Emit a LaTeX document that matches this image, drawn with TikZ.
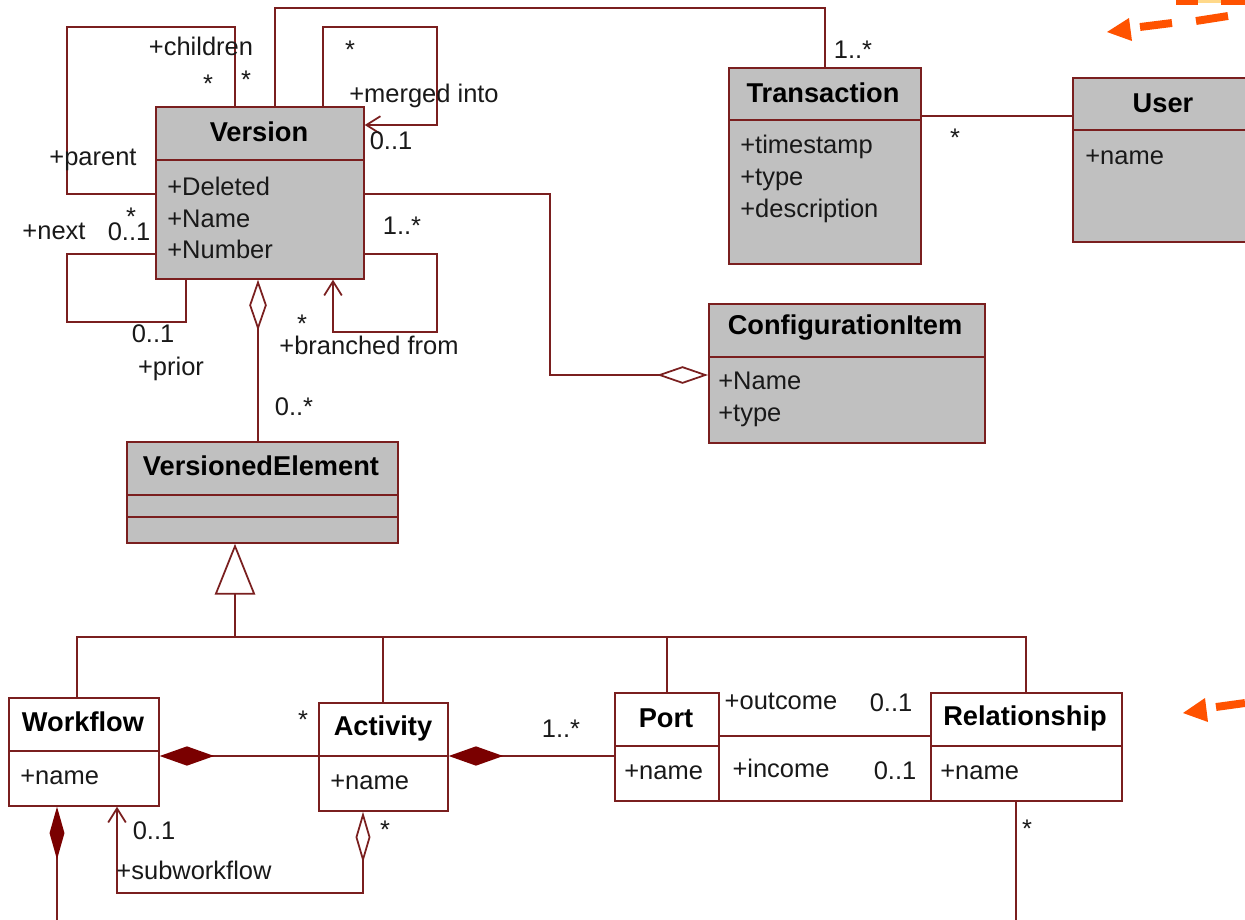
\documentclass[tikz,border=0pt]{standalone}
\usepackage{fontspec}
\setmainfont{Liberation Sans}
\usetikzlibrary{arrows.meta}
\definecolor{lc}{HTML}{7A1F1F}
\definecolor{gr}{HTML}{C0C0C0}
\definecolor{dk}{HTML}{7A0000}
\definecolor{og}{HTML}{FF5200}
\definecolor{yl}{HTML}{FFD98A}
\tikzset{
  ln/.style={draw=lc, line width=1pt},
  cls/.style={draw=lc, line width=1pt, inner sep=0pt, anchor=north west, fill=gr},
  wcls/.style={cls, fill=white},
  ttl/.style={font=\bfseries\fontsize{15.5}{18}\selectfont, inner sep=0pt, text=black},
  attr/.style={font=\fontsize{14.5}{18.1}\selectfont, align=left, anchor=west, inner sep=0pt, text=black!90},
  lbl/.style={font=\fontsize{14.5}{18}\selectfont, inner sep=0pt, text=black!90},
  odia/.tip={Diamond[open, length=29pt, width=10pt, line width=1pt]},
  fdia/.tip={Diamond[length=31pt, width=11pt, color=dk]},
  sdia/.tip={Diamond[length=30pt, width=8.5pt, color=dk]},
  navtip/.tip={Straight Barb[length=8pt, width=10pt, line width=1pt]},
  gentip/.tip={Triangle[open, length=29pt, width=23pt, fill=white, line width=1pt]},
}
\begin{document}
\begin{tikzpicture}[x=0.02cm, y=-0.02cm]
\useasboundingbox (0,0) rectangle (1245,920);
\fill[white] (0,0) rectangle (1245,920);

% ---------- classes ----------
\node[cls, minimum width=4.16cm, minimum height=3.44cm] (ver) at (155,106) {};
\draw[ln] (ver.west |- 0,160) -- (ver.east |- 0,160);
\node[ttl] (vert) at (259,132) {Version};
\node[attr] (vera) at (167,218) {+Deleted\\+Name\\+Number};

\node[cls, minimum width=3.84cm, minimum height=3.92cm] (tra) at (728,67) {};
\draw[ln] (tra.west |- 0,120) -- (tra.east |- 0,120);
\node[ttl] (trat) at (823,93) {Transaction};
\node[attr] (traa) at (740,179) {+timestamp\\+type\\+description};

\node[cls, minimum width=3.6cm, minimum height=3.28cm] (usr) at (1072,77) {};
\draw[ln] (usr.west |- 0,130) -- (usr.east |- 0,130);
\node[ttl] (usrt) at (1163,103) {User};
\node[attr] (usra) at (1085,157) {+name};

\node[cls, minimum width=5.52cm, minimum height=2.78cm] (ci) at (708,303) {};
\draw[ln] (ci.west |- 0,357) -- (ci.east |- 0,357);
\node[ttl] (cit) at (845,328) {ConfigurationItem};
\node[attr] (cia) at (718,399) {+Name\\+type};

\node[cls, minimum width=5.42cm, minimum height=2.02cm] (ve) at (126,441) {};
\draw[ln] (ve.west |- 0,495) -- (ve.east |- 0,495);
\draw[ln] (ve.west |- 0,517) -- (ve.east |- 0,517);
\node[ttl] (vet) at (261,466) {VersionedElement};

\node[wcls, minimum width=3.0cm, minimum height=2.16cm] (wf) at (8,697) {};
\draw[ln] (wf.west |- 0,751) -- (wf.east |- 0,751);
\node[ttl] (wft) at (83,722) {Workflow};
\node[attr] (wfa) at (20,777) {+name};

\node[wcls, minimum width=2.58cm, minimum height=2.16cm] (act) at (318,702) {};
\draw[ln] (act.west |- 0,756) -- (act.east |- 0,756);
\node[ttl] (actt) at (383,728) {Activity};
\node[attr] (acta) at (330,782) {+name};

\node[wcls, minimum width=2.08cm, minimum height=2.16cm] (port) at (614,692) {};
\draw[ln] (port.west |- 0,746) -- (port.east |- 0,746);
\node[ttl] (portt) at (666,718) {Port};
\node[attr] (porta) at (624,772) {+name};

\node[wcls, minimum width=3.82cm, minimum height=2.16cm] (rel) at (930,692) {};
\draw[ln] (rel.west |- 0,746) -- (rel.east |- 0,746);
\node[ttl] (relt) at (1025,718) {Relationship};
\node[attr] (rela) at (940,772) {+name};

% ---------- associations around Version ----------
% parent / children
\draw[ln] (ver.west |- 0,194) -| (67,27) -| (ver.north -| 235,0);
\node[lbl] (l1) at (201,46) {+children};
\node[lbl] (l2) at (208,84) {*};
\node[lbl] (l3) at (246,80) {*};
\node[lbl] (l4) at (93,160) {+parent};
% to Transaction
\draw[ln] (ver.north -| 275,0) |- (tra.north |- 0,8) -- (tra.north);
\node[lbl] (l5) at (853,50) {1..*};
% merged into
\draw[ln, -navtip] (ver.north -| 323,0) |- (437,27) |- (ver.east |- 0,125);
\node[lbl] (l6) at (350,50) {*};
\node[lbl] (l7) at (424,96) {+merged into};
\node[lbl] (l8) at (391,141) {0..1};
% next / prior
\draw[ln] (ver.west |- 0,254) -| (67,322) -| (ver.south -| 186,0);
\node[lbl] (l9) at (54,231) {+next};
\node[lbl] (l10) at (129,232) {0..1};
\node[lbl] (l11) at (131,217) {*};
\node[lbl] (l12) at (153,334) {0..1};
\node[lbl] (l13) at (171,369) {+prior};
% branched from
\draw[ln, -navtip] (ver.east |- 0,254) -| (437,332) -| (ver.south -| 333,0);
\node[lbl] (l14) at (402,226) {1..*};
\node[lbl] (l15) at (302,324) {*};
\node[lbl] (l16) at (369,345) {+branched from};
% Version aggregates VersionedElement
\draw[ln, odia-] (ver.south -| 258,0) -- (ve.north -| 258,0);
\node[lbl] (l17) at (294,407) {0..*};
% Version to ConfigurationItem
\draw[ln, -odia] (ver.east |- 0,194) -| (550,375) -- (ci.west |- 0,375);
% Transaction to User
\draw[ln] (tra.east |- 0,116) -- (usr.west |- 0,116);
\node[lbl] (l18) at (955,138) {*};

% ---------- generalization ----------
\coordinate (bus) at (235,637);
\draw[ln, gentip-] (ve.south -| 235,0) -- (bus);
\draw[ln] (wf.north -| 77,0) |- (bus) -| (rel.north);
\draw[ln] (act.north) -- (act.north |- bus);
\draw[ln] (port.north) -- (port.north |- bus);

% ---------- lower associations ----------
\draw[ln, fdia-] (wf.east |- 0,756) -- (act.west |- 0,756);
\node[lbl] (l19) at (303,720) {*};
\draw[ln, fdia-] (act.east |- 0,756) -- (port.west |- 0,756);
\node[lbl] (l20) at (561,729) {1..*};
\draw[ln, {Diamond[open, length=29pt, width=8.5pt, line width=1pt]}-navtip] (act.south -| 363,0) |- (117,893) -- (wf.south -| 117,0);
\node[lbl] (l21) at (154,831) {0..1};
\node[lbl] (l22) at (385,830) {*};
\node[lbl] (l23) at (194,870) {+subworkflow};
\coordinate (wfout) at (57,930);
\draw[ln, sdia-] (wf.south -| 57,0) -- (wfout);
\coordinate (relout) at (1016,930);
\draw[ln] (rel.south -| 1016,0) -- (relout);
\node[lbl] (l24) at (1027,829) {*};
% Port -- Relationship
\draw[ln] (port.east |- 0,736) -- (rel.west |- 0,736);
\draw[ln] (port.east |- 0,801) -- (rel.west |- 0,801);
\node[lbl] (l25) at (781,701) {+outcome};
\node[lbl] (l26) at (891,703) {0..1};
\node[lbl] (l27) at (781,768) {+income};
\node[lbl] (l28) at (895,771) {0..1};

% ---------- orange pointers ----------
\fill[og] (1176,0) rectangle (1198,5);
\fill[og] (1221,0) rectangle (1245,5);
\fill[yl] (1198,0) rectangle (1221,3);
\draw[og, line width=4.5pt] (1140,27) -- (1172,23);
\draw[og, line width=4.5pt] (1196,21) -- (1228,16);
\fill[og] (1107,32) -- (1129,18) -- (1132,41) -- cycle;
\draw[og, line width=4.5pt] (1216,707) -- (1245,703);
\fill[og] (1183,713) -- (1205,698) -- (1208,722) -- cycle;
\end{tikzpicture}
\end{document}
